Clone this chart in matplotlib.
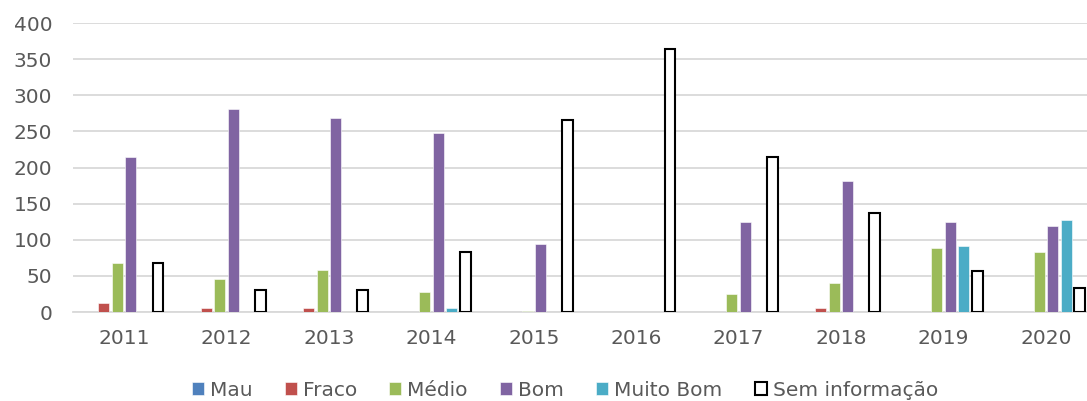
import matplotlib
matplotlib.use('Agg')
import matplotlib.pyplot as plt
import numpy as np

years = ['2011', '2012', '2013', '2014', '2015', '2016', '2017', '2018', '2019', '2020']
series_names = ['Mau', 'Fraco', 'Médio', 'Bom', 'Muito Bom', 'Sem informação']

mau = [0, 0, 0, 0, 0, 0, 0, 0, 0, 0]
fraco = [13, 6, 6, 0, 0, 0, 0, 5, 0, 0]
medio = [68, 46, 58, 28, 2, 0, 25, 40, 88, 83]
bom = [214, 281, 268, 248, 94, 0, 124, 182, 125, 119]
muito_bom = [0, 0, 0, 5, 0, 0, 0, 0, 92, 127]
sem_info = [68, 30, 31, 83, 266, 364, 215, 137, 57, 33]

colors = ['#4F81BD', '#C0504D', '#9BBB59', '#8064A2', '#4BACC6', 'white']
text_color = '#595959'
grid_color = '#D9D9D9'

W, H = 1087, 401
fig = plt.figure(figsize=(W / 100, H / 100), dpi=100)
ax = fig.add_axes([73 / W, 89 / H, 1024 / W, 289 / H])

x = np.arange(len(years))
slot = 0.132
bw = 0.107
data = [mau, fraco, medio, bom, muito_bom, sem_info]
for i, (vals, name, c) in enumerate(zip(data, series_names, colors)):
    off = (i - 2.5) * slot
    if name == 'Sem informação':
        ax.bar(x + off, vals, bw, color=c, edgecolor='black', linewidth=1.5,
               label=name, zorder=3)
    else:
        ax.bar(x + off, vals, bw, color=c, edgecolor='white', linewidth=0.4,
               label=name, zorder=3)

ax.set_xlim(-0.5, len(years) - 0.5)
ax.set_ylim(0, 400)
ax.set_yticks(range(0, 401, 50))
ax.set_xticks(x)
ax.set_xticklabels(years)
ax.yaxis.grid(True, color=grid_color, linewidth=1.3, zorder=0)
ax.set_axisbelow(True)
for s in ['top', 'right', 'left']:
    ax.spines[s].set_visible(False)
ax.spines['bottom'].set_color(grid_color)
ax.spines['bottom'].set_linewidth(1.3)
ax.tick_params(axis='both', length=0, labelsize=14.5, colors=text_color)
ax.tick_params(axis='y', pad=15)
ax.tick_params(axis='x', pad=12)

fig.legend(loc='center', bbox_to_anchor=(565 / W, 11 / H), ncol=6, frameon=False,
           fontsize=14.5, labelcolor=text_color, handlelength=0.6, handleheight=0.6,
           handletextpad=0.3, columnspacing=1.6, borderaxespad=0)

fig.savefig('out.png', dpi=100)
